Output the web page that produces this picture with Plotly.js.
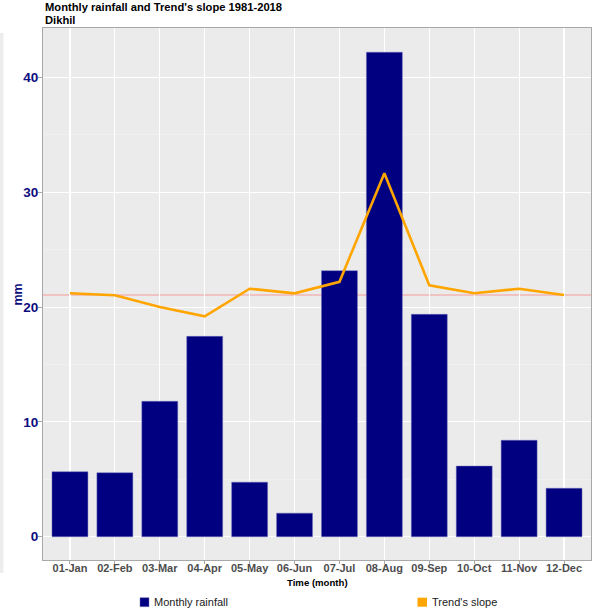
<!DOCTYPE html>
<html>
<head>
<meta charset="utf-8">
<script src="https://cdn.plot.ly/plotly-3.0.1.min.js"></script>
<style>html,body{margin:0;padding:0;background:#fff;}#chart{width:595px;height:611px;}</style>
</head>
<body>
<div id="chart"></div>
<script>
// ---- data ----
var months = ["01-Jan","02-Feb","03-Mar","04-Apr","05-May","06-Jun","07-Jul","08-Aug","09-Sep","10-Oct","11-Nov","12-Dec"];
var rainfall = [5.66, 5.57, 11.79, 17.45, 4.75, 2.05, 23.17, 42.2, 19.37, 6.15, 8.4, 4.22];
var trendSlope = [21.2, 21.03, 20.0, 19.2, 21.6, 21.2, 22.2, 31.65, 21.9, 21.2, 21.6, 21.05];
var refLine = 21.05;
var yTicks = [0, 10, 20, 30, 40];

var FONT = "Liberation Sans, Arial, sans-serif";
var L = 43, R = 4, T = 28, B = 51, W = 595, H = 611;
var pw = W - L - R, ph = H - T - B;
function px(x){ return (x - L) / pw; }
function py(y){ return (H - B - y) / ph; }

var traces = [
  {type: "bar", x: months, y: rainfall, name: "Monthly rainfall", width: 0.8,
   marker: {color: "#000080", line: {color: "rgba(110,110,190,0.8)", width: 0.6}},
   showlegend: false, hoverinfo: "x+y"},
  {type: "scatter", mode: "lines", x: months, y: trendSlope, name: "Trend's slope",
   line: {color: "#FFA500", width: 2.6}, showlegend: false}
];

var layout = {
  width: W, height: H,
  margin: {l: L, r: R, t: T, b: B, pad: 0},
  paper_bgcolor: "#FFFFFF",
  plot_bgcolor: "#EBEBEB",
  font: {family: FONT},
  showlegend: false,
  xaxis: {
    type: "category", categoryorder: "array", categoryarray: months,
    range: [-0.6, 11.6],
    showgrid: true, gridcolor: "#FFFFFF", gridwidth: 1.1,
    showline: true, linecolor: "#A8A8A8", linewidth: 1, mirror: true,
    ticks: "outside", ticklen: 3, tickcolor: "#A8A8A8",
    ticklabelstandoff: -5,
    tickfont: {family: FONT, size: 11, color: "#4D4D4D", weight: "bold"},
    zeroline: false
  },
  yaxis: {
    range: [-2.03, 44.31],
    tickvals: yTicks, ticktext: yTicks.map(String),
    showgrid: true, gridcolor: "#FFFFFF", gridwidth: 1.1,
    minor: {dtick: 5, tick0: 0, showgrid: true, gridcolor: "#F4F4F4", gridwidth: 0.6},
    showline: true, linecolor: "#A8A8A8", linewidth: 1, mirror: true,
    ticks: "outside", ticklen: 4, tickcolor: "#A8A8A8",
    ticklabelstandoff: -3,
    tickfont: {family: FONT, size: 13.5, color: "#0D0D80", weight: "bold"},
    zeroline: false
  },
  shapes: [
    {type: "line", xref: "paper", yref: "y", x0: 0, x1: 1, y0: refLine, y1: refLine,
     line: {color: "#F3B5B5", width: 1.4}, layer: "below"},
    {type: "rect", xref: "paper", yref: "paper", x0: px(0), x1: px(3.5), y0: py(573), y1: py(33),
     fillcolor: "#EDEDED", line: {width: 0}},
    {type: "rect", xref: "paper", yref: "paper", x0: px(140), x1: px(149), y0: py(606.7), y1: py(597.7),
     fillcolor: "#000080", line: {color: "rgba(110,110,190,0.8)", width: 0.6}},
    {type: "rect", xref: "paper", yref: "paper", x0: px(417.5), x1: px(427), y0: py(606.7), y1: py(597.7),
     fillcolor: "#FFA500", line: {width: 0}}
  ],
  annotations: [
    {text: "Monthly rainfall and Trend's slope 1981-2018", xref: "paper", yref: "paper",
     x: px(43), y: py(7.3), xanchor: "left", yanchor: "middle", showarrow: false,
     font: {family: FONT, size: 11.2, color: "#000000", weight: "bold"}},
    {text: "Dikhil", xref: "paper", yref: "paper",
     x: px(43), y: py(19.7), xanchor: "left", yanchor: "middle", showarrow: false,
     font: {family: FONT, size: 11.2, color: "#000000", weight: "bold"}},
    {text: "mm", xref: "paper", yref: "paper", x: px(17.5), y: py(295), textangle: -90,
     xanchor: "center", yanchor: "middle", showarrow: false,
     font: {family: FONT, size: 12.5, color: "#0D0D80", weight: "bold"}},
    {text: "Time (month)", xref: "paper", yref: "paper", x: px(317), y: py(582),
     xanchor: "center", yanchor: "middle", showarrow: false,
     font: {family: FONT, size: 9.6, color: "#000000", weight: "bold"}},
    {text: "Monthly rainfall", xref: "paper", yref: "paper", x: px(151.5), y: py(602.3),
     xanchor: "left", yanchor: "middle", showarrow: false,
     font: {family: FONT, size: 11, color: "#1A1A1A"}},
    {text: "Trend's slope", xref: "paper", yref: "paper", x: px(429.5), y: py(602.3),
     xanchor: "left", yanchor: "middle", showarrow: false,
     font: {family: FONT, size: 11, color: "#1A1A1A"}}
  ]
};

Plotly.newPlot("chart", traces, layout, {displayModeBar: false, staticPlot: true});
</script>
</body>
</html>
